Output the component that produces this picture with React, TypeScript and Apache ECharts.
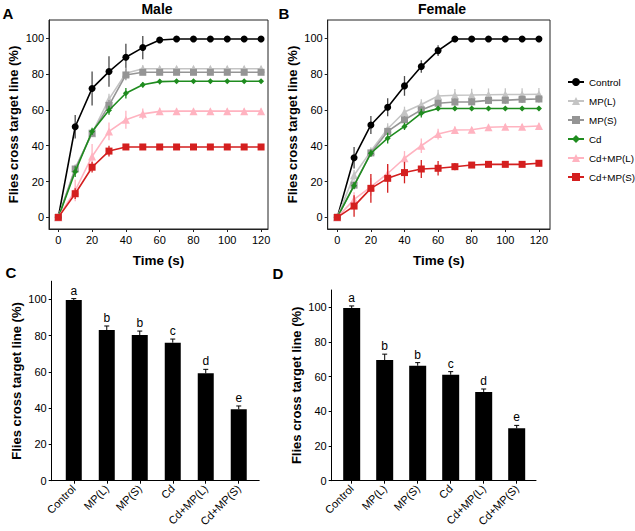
import React, { useEffect, useRef } from 'react';
import * as echarts from 'echarts';

const times = [0, 10, 20, 30, 40, 50, 60, 70, 80, 90, 100, 110, 120];
const seriesNames = ['Control', 'MP(L)', 'MP(S)', 'Cd', 'Cd+MP(L)', 'Cd+MP(S)'];

// Panel A (Male) means and SD
const maleControl = [0, 50.6, 72, 81.4, 89.4, 94.8, 99, 99.6, 99.6, 99.6, 99.6, 99.6, 99.6];
const maleControlErr = [0, 6.5, 9.5, 8.5, 7.5, 6.5, 1.2, 0, 0, 0, 0, 0, 0];
const maleMPL = [0, 27.5, 47, 66, 80.5, 83, 83, 83, 83, 83, 83, 83, 83];
const maleMPLErr = [0, 2, 2, 3, 3, 2, 1.5, 1.5, 1.5, 1.5, 1.5, 1.5, 1.5];
const maleMPS = [0, 27, 47, 62.5, 79.5, 81, 81, 81, 81, 81, 81, 81, 81];
const maleMPSErr = [0, 2, 2, 3, 3, 1.5, 1.5, 1.5, 1.5, 1.5, 1.5, 1.5, 1.5];
const maleCd = [0, 25.5, 48, 59.8, 69.3, 74, 75.8, 76, 76, 76, 76, 76, 76];
const maleCdErr = [0, 3, 2, 2.5, 3, 1.5, 1.5, 1, 1, 1, 1, 1, 1];
const maleCdMPL = [0, 15, 34, 48, 54.5, 57.8, 59.2, 59.3, 59.3, 59.3, 59.3, 59.3, 59.3];
const maleCdMPLErr = [0, 6, 7, 5, 5, 3, 2, 1.5, 1.5, 1.5, 1.5, 1.5, 1.5];
const maleCdMPS = [0, 13.2, 28, 37, 39.3, 39.3, 39.3, 39.3, 39.3, 39.3, 39.3, 39.3, 39.3];
const maleCdMPSErr = [0, 3, 3, 3, 1, 0.5, 0.5, 0.5, 0.5, 0.5, 0.5, 0.5, 0.5];

// Panel B (Female) means and SD
const femaleControl = [0, 33.3, 51.6, 61.5, 73.4, 84.2, 93.1, 99.6, 99.6, 99.6, 99.6, 99.6, 99.6];
const femaleControlErr = [0, 6, 5, 5, 5.5, 3.5, 3, 0, 0, 0, 0, 0, 0];
const femaleMPL = [0, 23.5, 37, 49.5, 58.8, 63, 67.8, 68.2, 68.3, 68.5, 68.6, 68.6, 68.7];
const femaleMPLErr = [0, 3, 2, 3, 3, 3, 3.5, 3.5, 3.5, 3.5, 3.5, 3.5, 3.5];
const femaleMPS = [0, 18, 36, 48, 54.5, 60, 63.7, 64.4, 64.5, 65.3, 65.4, 65.9, 66.1];
const femaleMPSErr = [0, 2, 2, 2, 2, 2, 2, 2, 2, 2, 2, 2, 2];
const femaleCd = [0, 17.7, 35.8, 44.2, 50.8, 58.2, 60.8, 60.8, 60.8, 60.8, 60.8, 60.8, 60.8];
const femaleCdErr = [0, 2, 2, 3, 2, 2.5, 1, 1, 1, 1, 1, 1, 1];
const femaleCdMPL = [0, 10, 17, 24.5, 33, 40, 46.5, 48.8, 48.9, 50.3, 50.6, 50.6, 51];
const femaleCdMPLErr = [0, 4, 5, 5, 4, 4, 3, 2, 1.5, 1.5, 1.5, 1.5, 1.5];
const femaleCdMPS = [0, 6.3, 16.2, 21.8, 25, 27, 27.4, 28.3, 29.2, 29.6, 29.6, 29.6, 30.2];
const femaleCdMPSErr = [0, 6, 8, 8, 6, 5, 4, 2, 1, 1, 1, 1, 1];

// Panels C / D (bars)
const barCategories = ['Control', 'MP(L)', 'MP(S)', 'Cd', 'Cd+MP(L)', 'Cd+MP(S)'];
const maleBars = [99.6, 83.1, 80.3, 76.1, 59.2, 39.4];
const maleBarsErr = [0.8, 2.2, 2.2, 2.0, 2.2, 1.8];
const femaleBars = [99.6, 69.6, 66.3, 61.1, 51.2, 30.2];
const femaleBarsErr = [1.2, 3.4, 1.8, 1.8, 1.7, 1.7];
const barLetters = ['a', 'b', 'b', 'c', 'd', 'e'];

const yTicks = [0, 20, 40, 60, 80, 100];
const xTicks = [0, 20, 40, 60, 80, 100, 120];

const FONT = "'Liberation Sans', Arial, Helvetica, sans-serif";
const colors = ['#000000', '#c4c4c4', '#959595', '#1f8c1f', '#ffb3c0', '#d41f1f'];
const errColors = ['#4a4a4a', '#c4c4c4', '#959595', '#1f8c1f', '#ffb3c0', '#d41f1f'];
const symbols = ['circle', 'triangle', 'rect', 'diamond', 'triangle', 'rect'];
const symbolSizes = [7, 8, 7, 6, 8, 7];

const maleSets = [
  [maleControl, maleControlErr], [maleMPL, maleMPLErr], [maleMPS, maleMPSErr],
  [maleCd, maleCdErr], [maleCdMPL, maleCdMPLErr], [maleCdMPS, maleCdMPSErr],
];
const femaleSets = [
  [femaleControl, femaleControlErr], [femaleMPL, femaleMPLErr], [femaleMPS, femaleMPSErr],
  [femaleCd, femaleCdErr], [femaleCdMPL, femaleCdMPLErr], [femaleCdMPS, femaleCdMPSErr],
];

function lineErrRender(color: string) {
  return (params: any, api: any) => {
    const x = api.value(0), y = api.value(1), e = api.value(2);
    if (!e) return null;
    const top = api.coord([x, y + e]);
    const bot = api.coord([x, y - e]);
    return {
      type: 'line',
      shape: { x1: top[0], y1: top[1], x2: bot[0], y2: bot[1] },
      style: { stroke: color, lineWidth: 1.3 },
    };
  };
}

function barErrRender(params: any, api: any) {
  const x = api.value(0), y = api.value(1), e = api.value(2);
  const p0 = api.coord([x, y]);
  const p1 = api.coord([x, y + e]);
  return {
    type: 'group',
    children: [
      { type: 'line', shape: { x1: p0[0], y1: p0[1], x2: p1[0], y2: p1[1] }, style: { stroke: '#000', lineWidth: 1 } },
      { type: 'line', shape: { x1: p1[0] - 2.5, y1: p1[1], x2: p1[0] + 2.5, y2: p1[1] }, style: { stroke: '#000', lineWidth: 1 } },
      {
        type: 'text', x: p1[0], y: p1[1] - 2,
        style: {
          text: barLetters[params.dataIndex], fill: '#000', font: `12px ${FONT}`,
          textAlign: 'center', textVerticalAlign: 'bottom',
        },
      },
    ],
  };
}

const axisNameStyle = { fontFamily: FONT, fontSize: 13, fontWeight: 'bold', color: '#000' };
const tickLabelStyle = { fontFamily: FONT, fontSize: 11, color: '#000' };

function lineXAxis(grid: number, min: number, max: number) {
  return {
    type: 'value', gridIndex: grid, min, max,
    name: 'Time (s)', nameLocation: 'middle', nameGap: 24,
    nameTextStyle: { ...axisNameStyle, fontSize: 13.5 },
    axisLine: { show: true, onZero: false, lineStyle: { color: '#222', width: 1 } },
    axisTick: { show: true, length: 3, customValues: xTicks, lineStyle: { color: '#222' } },
    axisLabel: { ...tickLabelStyle, margin: 5, customValues: xTicks },
    splitLine: { show: false },
  };
}
function lineYAxis(grid: number, min: number, max: number, showName: boolean) {
  return {
    type: 'value', gridIndex: grid, min, max,
    name: showName ? 'Flies cross target line (%)' : '', nameLocation: 'middle', nameGap: 29,
    nameTextStyle: axisNameStyle,
    axisLine: { show: true, onZero: false, lineStyle: { color: '#222', width: 1 } },
    axisTick: { show: true, length: 3, customValues: yTicks, lineStyle: { color: '#222' } },
    axisLabel: { ...tickLabelStyle, margin: 5, customValues: yTicks },
    splitLine: { show: false },
  };
}
function barXAxis(grid: number, min: number, max: number) {
  const idx = barCategories.map((_, i) => i);
  return {
    type: 'value', gridIndex: grid, min, max,
    axisLine: { show: true, onZero: false, lineStyle: { color: '#000', width: 1 } },
    axisTick: { show: true, length: 3, customValues: idx, lineStyle: { color: '#000' } },
    axisLabel: {
      ...tickLabelStyle, margin: 6, rotate: 45, customValues: idx,
      formatter: (v: number) => barCategories[Math.round(v)] ?? '',
    },
    splitLine: { show: false },
  };
}
function barYAxis(grid: number) {
  return {
    type: 'value', gridIndex: grid, min: 0, max: 110,
    name: 'Flies cross target line (%)', nameLocation: 'middle', nameGap: 29,
    nameTextStyle: axisNameStyle,
    axisLine: { show: true, onZero: false, lineStyle: { color: '#000', width: 1 } },
    axisTick: { show: true, length: 3, customValues: yTicks, lineStyle: { color: '#000' } },
    axisLabel: { ...tickLabelStyle, margin: 5, customValues: yTicks },
    splitLine: { show: false },
  };
}

function buildLineSeries(sets: any[], axisIdx: number) {
  const out: any[] = [];
  sets.forEach((pair: any, k: number) => {
    const [vals, errs] = pair;
    out.push({
      type: 'custom', xAxisIndex: axisIdx, yAxisIndex: axisIdx, name: 'err' + axisIdx + '_' + k,
      renderItem: lineErrRender(errColors[k]),
      data: times.map((t, i) => [t, vals[i], errs[i]]),
      z: 2 + k * 2,
    });
    out.push({
      type: 'line', xAxisIndex: axisIdx, yAxisIndex: axisIdx, name: seriesNames[k],
      data: times.map((t, i) => [t, vals[i]]),
      symbol: symbols[k], symbolSize: symbolSizes[k], showSymbol: true,
      lineStyle: { color: colors[k], width: 1.6 },
      itemStyle: { color: colors[k] },
      z: 3 + k * 2,
    });
  });
  return out;
}

function buildBarSeries(vals: number[], errs: number[], axisIdx: number, width: number) {
  return [
    {
      type: 'bar', xAxisIndex: axisIdx, yAxisIndex: axisIdx, name: 'bars' + axisIdx,
      data: vals.map((v, i) => [i, v]), barWidth: width,
      itemStyle: { color: '#000' },
    },
    {
      type: 'custom', xAxisIndex: axisIdx, yAxisIndex: axisIdx, name: 'barerr' + axisIdx,
      renderItem: barErrRender, data: vals.map((v, i) => [i, v, errs[i]]), z: 5,
    },
  ];
}

export default function App() {
  const ref = useRef<HTMLDivElement>(null);
  useEffect(() => {
    document.body.style.margin = '0';
    if (!ref.current) return;
    const chart = echarts.init(ref.current, null, { renderer: 'svg' });
    const option: any = {
      animation: false,
      backgroundColor: '#fff',
      textStyle: { fontFamily: FONT },
      grid: [
        { left: 49, top: 20, width: 219, height: 209, show: true, borderColor: '#222', borderWidth: 1, backgroundColor: 'transparent' },
        { left: 327.7, top: 20, width: 222.3, height: 209, show: true, borderColor: '#222', borderWidth: 1, backgroundColor: 'transparent' },
        { left: 51.7, top: 281.2, width: 207.5, height: 199.5 },
        { left: 331.7, top: 290, width: 204.3, height: 190.7 },
      ],
      xAxis: [
        lineXAxis(0, -5.5, 124.1),
        lineXAxis(1, -5.7, 126.6),
        barXAxis(2, -0.669, 5.62),
        barXAxis(3, -0.606, 5.585),
      ],
      yAxis: [
        lineYAxis(0, -6.5, 110.2, true),
        lineYAxis(1, -6.5, 110.2, true),
        barYAxis(2),
        barYAxis(3),
      ],
      legend: {
        data: seriesNames,
        orient: 'vertical', left: 567, top: 77, padding: 0,
        itemWidth: 16, itemHeight: 10, itemGap: 9,
        selectedMode: false,
        textStyle: { fontFamily: FONT, fontSize: 9.8, color: '#000' },
      },
      graphic: [
        { type: 'text', x: 157, y: 9, style: { text: 'Male', font: `bold 14px ${FONT}`, fill: '#000', textAlign: 'center', textVerticalAlign: 'middle' } },
        { type: 'text', x: 442, y: 9, style: { text: 'Female', font: `bold 14px ${FONT}`, fill: '#000', textAlign: 'center', textVerticalAlign: 'middle' } },
        { type: 'text', x: 8, y: 13, style: { text: 'A', font: `bold 15px ${FONT}`, fill: '#000', textAlign: 'center', textVerticalAlign: 'middle' } },
        { type: 'text', x: 284, y: 13, style: { text: 'B', font: `bold 15px ${FONT}`, fill: '#000', textAlign: 'center', textVerticalAlign: 'middle' } },
        { type: 'text', x: 11, y: 272, style: { text: 'C', font: `bold 15px ${FONT}`, fill: '#000', textAlign: 'center', textVerticalAlign: 'middle' } },
        { type: 'text', x: 278, y: 273, style: { text: 'D', font: `bold 15px ${FONT}`, fill: '#000', textAlign: 'center', textVerticalAlign: 'middle' } },
      ],
      series: [
        ...buildLineSeries(maleSets, 0),
        ...buildLineSeries(femaleSets, 1),
        ...buildBarSeries(maleBars, maleBarsErr, 2, 16),
        ...buildBarSeries(femaleBars, femaleBarsErr, 3, 17),
      ],
    };
    chart.setOption(option);
    return () => chart.dispose();
  }, []);
  return <div ref={ref} style={{ width: 635, height: 531 }} />;
}
